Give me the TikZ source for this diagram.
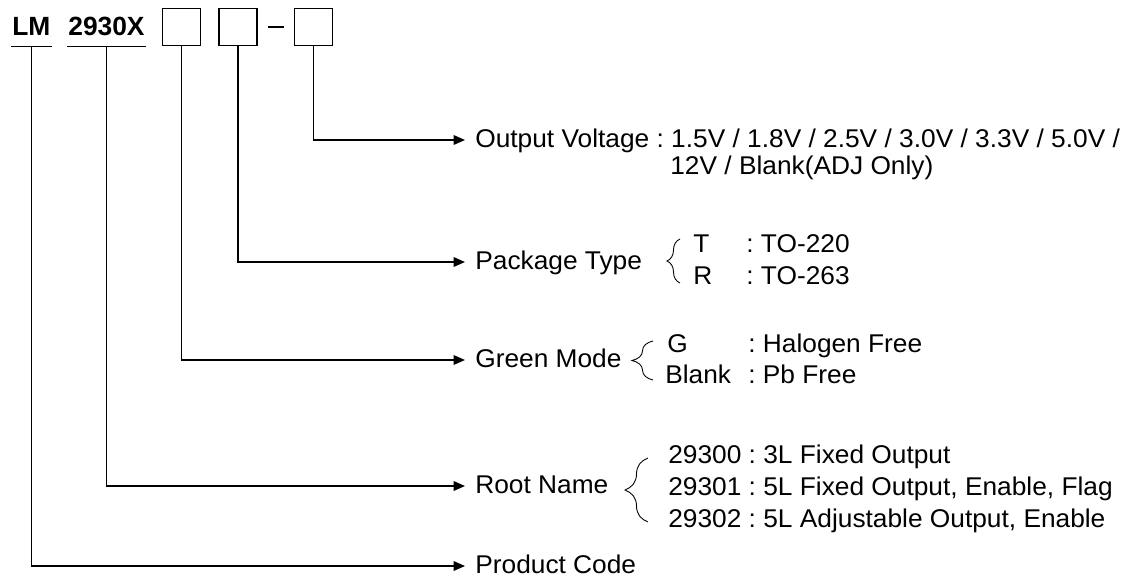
\documentclass[tikz,border=0pt]{standalone}
\usepackage{fontspec}
\setmainfont{Liberation Sans}[FakeStretch=1.025]
\newfontfamily\tfont{Liberation Sans}
\usetikzlibrary{arrows.meta,decorations.pathreplacing}
\frenchspacing
\begin{document}
\begin{tikzpicture}[x=0.02cm,y=-0.02cm,
  font=\fontsize{14.6}{17}\selectfont\frenchspacing,
  conn/.style={line width=0.75pt},
  arr/.style={conn,-{Triangle[length=6.5pt,width=5.5pt]}},
  slot/.style={draw,line width=0.9pt,minimum width=0.76cm,minimum height=0.74cm,inner sep=0},
  title/.style={anchor=base west,font=\tfont\bfseries\fontsize{15}{18}\selectfont,inner xsep=0.02cm,inner ysep=0.2cm,text depth=0pt},
  uline/.style={line width=0.9pt},
  lab/.style={anchor=west,inner xsep=0.2cm,inner ysep=0,text height=0.36cm,text depth=0.06cm},
  plain/.style={anchor=base west,inner sep=0},
  brc/.style={line width=0.5pt,decorate,decoration={brace,amplitude=#1}}
]
\useasboundingbox (0,0) rectangle (1137,581);

% header
\node[title] (LM) at (11,36) {LM};
\node[title] (RN) at (67,36) {2930X};
\draw[uline] (LM.south west) -- (LM.south east);
\draw[uline] (RN.south west) -- (RN.south east);
\node[slot] (b1) at (181.5,27) {};
\node[slot] (b2) at (238,27) {};
\node[slot] (b3) at (313.5,27) {};
\draw[uline] (268,27) -- (284,27);

% labels
\node[lab] (ov) at (465,140) {Output Voltage : 1.5V / 1.8V / 2.5V / 3.0V / 3.3V / 5.0V /};
\node[plain] (ov2) at (670,174) {12V / Blank(ADJ Only)};
\node[lab] (pt) at (465,262) {Package Type};
\node[lab] (gm) at (465,360) {Green Mode};
\node[lab] (rn) at (465,486) {Root Name};
\node[lab] (pc) at (465,566) {Product Code};

% connectors
\draw[arr] (b3.south) |- (ov.west);
\draw[arr] (b2.south) |- (pt.west);
\draw[arr] (b1.south) |- (gm.west);
\draw[arr] (RN.south) |- (rn.west);
\draw[arr] (LM.south) |- (pc.west);

% package type
\draw[brc=0.26cm] (680,283) -- (680,239);
\node[plain] (pT) at (693,253) {T};
\node[plain] (pTd) at (746,253) {: TO-220};
\node[plain] (pR) at (693,284) {R};
\node[plain] (pRd) at (746,284) {: TO-263};

% green mode
\draw[brc=0.42cm] (653,380) -- (653,341);
\node[plain] (gG) at (667,352) {G};
\node[plain] (gGd) at (748,352) {: Halogen Free};
\node[plain] (gB) at (665,383) {Blank};
\node[plain] (gBd) at (748,383) {: Pb Free};

% root name
\draw[brc=0.46cm] (648,522) -- (648,458);
\node[plain] (r1) at (668,463) {29300 : 3L Fixed Output};
\node[plain] (r2) at (668,495) {29301 : 5L Fixed Output, Enable, Flag};
\node[plain] (r3) at (668,527) {29302 : 5L Adjustable Output, Enable};
\end{tikzpicture}
\end{document}
